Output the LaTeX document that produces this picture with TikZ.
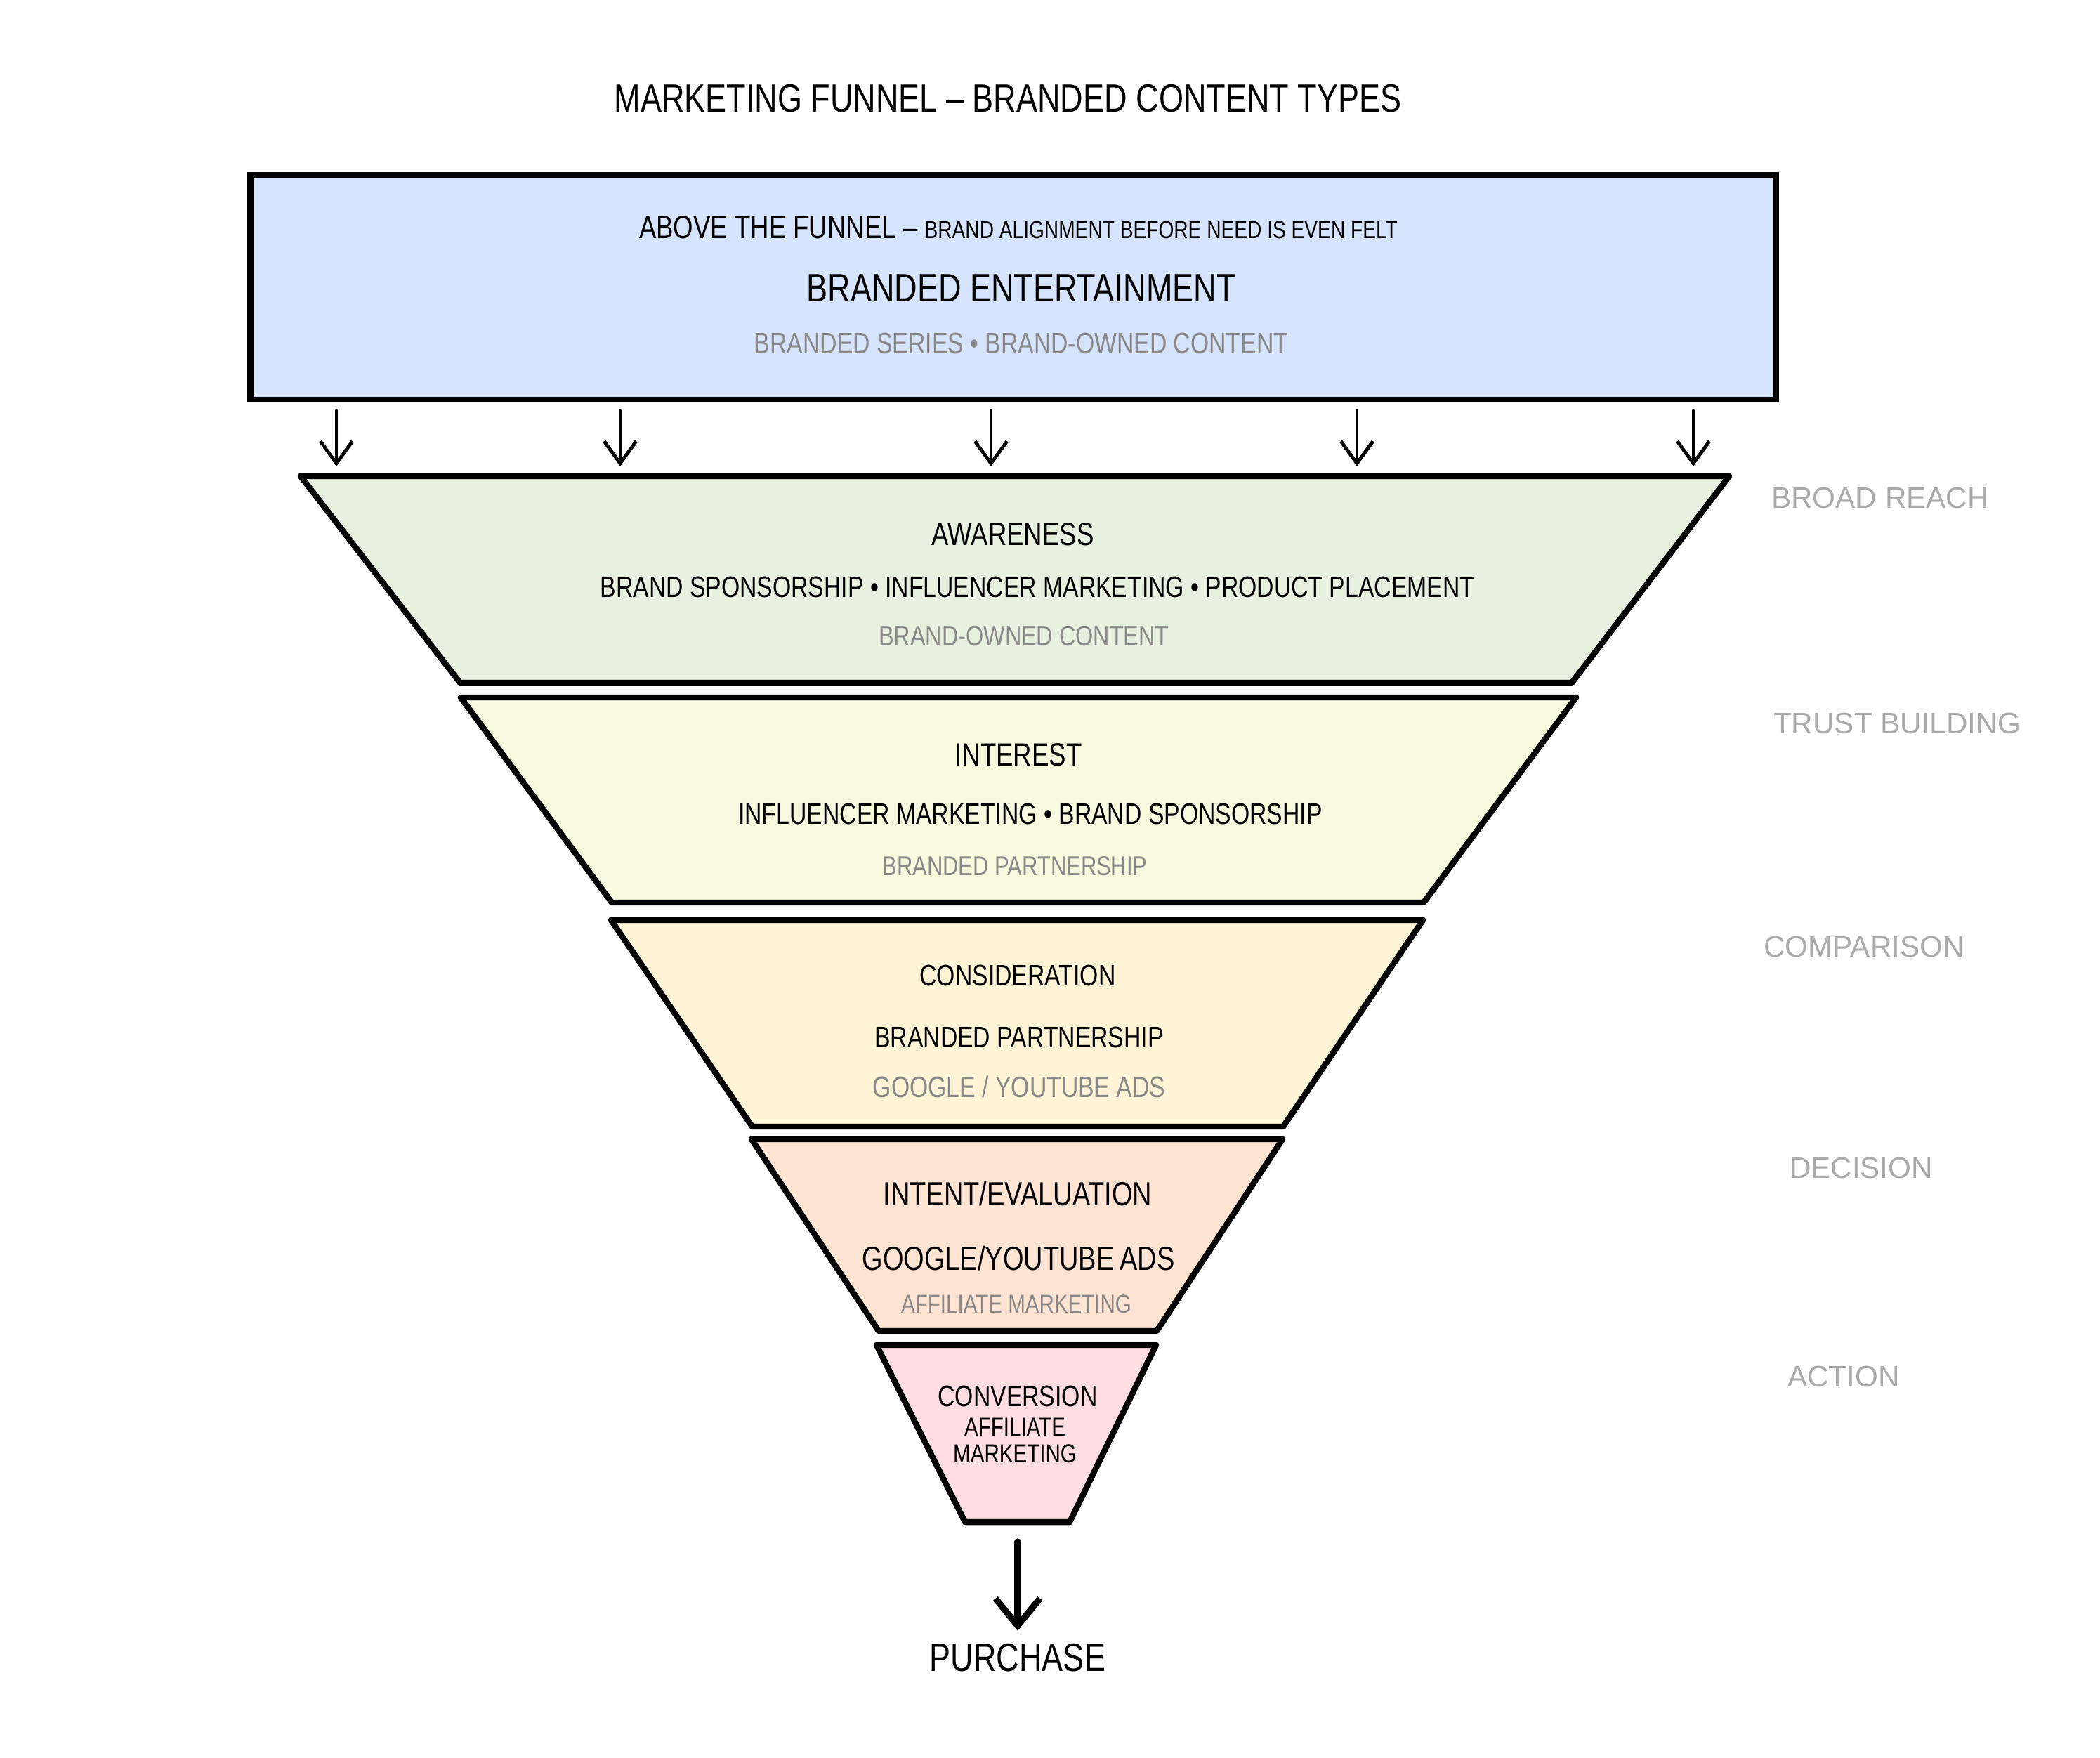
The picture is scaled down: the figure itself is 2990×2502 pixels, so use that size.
\documentclass[tikz,border=0pt]{standalone}
\usepackage{fontspec}
\setmainfont{Liberation Sans}[FakeStretch=0.8]
\newfontfamily\sidefamily{Liberation Sans}
\usepackage{tikz}
\usetikzlibrary{arrows.meta, positioning}

\definecolor{topblue}{HTML}{D5E4FC}
\definecolor{awaregreen}{HTML}{E6F1DF}
\definecolor{interestlime}{HTML}{F6F9DD}
\definecolor{considcream}{HTML}{FFF5D6}
\definecolor{intentpeach}{HTML}{FFE3D3}
\definecolor{convpink}{HTML}{FFDDE1}
\definecolor{subgray}{HTML}{888888}
\definecolor{sidegray}{HTML}{AAAAAA}

\begin{document}
\begin{tikzpicture}[
    x=0.01cm, y=-0.01cm,
    layer/.style={draw=black, line width=2.4pt, line join=round, line cap=round},
    topbox/.style={rectangle, draw=black, line width=2.4pt, fill=topblue,
                   minimum width=21.71cm, minimum height=3.2cm, inner sep=0pt},
    headtxt/.style={inner sep=0pt, font=\fontsize{#1}{#1}\selectfont},
    subtxt/.style={inner sep=0pt, text=subgray, font=\fontsize{#1}{#1}\selectfont},
    sidetxt/.style={inner sep=0pt, text=sidegray, font=\sidefamily\fontsize{12}{12}\selectfont},
    feed/.style={line width=1.4pt, line cap=round, -{Straight Barb[length=9pt, width=13pt]}},
    outarrow/.style={line width=2.6pt, line cap=round, -{Straight Barb[length=11pt, width=18pt]}}
]
\useasboundingbox (0,0) rectangle (2990,2502);

\node (title) [headtxt=16] at (1435,140) {MARKETING FUNNEL – BRANDED CONTENT TYPES};

% above the funnel
\node (above) [topbox] at (1442.5,409) {};
\node (aboveline) [headtxt=13] at (1450,324)
    {ABOVE THE FUNNEL – {\fontsize{10}{10}\selectfont BRAND ALIGNMENT BEFORE NEED IS EVEN FELT}};
\node (entertain) [headtxt=16] at (1454,410) {BRANDED ENTERTAINMENT};
\node (entertainsub) [subtxt=12] at (1454,489) {BRANDED SERIES • BRAND-OWNED CONTENT};

\foreach \x [count=\i] in {479,883,1411,1932,2411} {
    \coordinate (drop\i) at (\x,585);
    \coordinate (land\i) at (\x,664);
    \draw [feed] (drop\i) -- (land\i);
}

% funnel layers
\draw [layer, fill=awaregreen] (428,678) -- (2462,678) -- (2238,972) -- (655,972) -- cycle;
\draw [layer, fill=interestlime] (656,993) -- (2244,993) -- (2027,1285) -- (871,1285) -- cycle;
\draw [layer, fill=considcream] (870,1310) -- (2026,1310) -- (1827,1604) -- (1071,1604) -- cycle;
\draw [layer, fill=intentpeach] (1070,1622) -- (1826,1622) -- (1647,1895) -- (1251,1895) -- cycle;
\draw [layer, fill=convpink] (1248,1915) -- (1646,1915) -- (1523,2167) -- (1374,2167) -- cycle;

\node (aware) [headtxt=13] at (1442,761) {AWARENESS};
\node (awareitems) [headtxt=12] at (1477,836) {BRAND SPONSORSHIP • INFLUENCER MARKETING • PRODUCT PLACEMENT};
\node (awaresub) [subtxt=11.5] at (1458,906) {BRAND-OWNED CONTENT};

\node (interest) [headtxt=13] at (1450,1075) {INTEREST};
\node (interestitems) [headtxt=12] at (1467,1159) {INFLUENCER MARKETING • BRAND SPONSORSHIP};
\node (interestsub) [subtxt=11] at (1445,1233) {BRANDED PARTNERSHIP};

\node (consid) [headtxt=12] at (1449,1389) {CONSIDERATION};
\node (considitems) [headtxt=12] at (1451,1477) {BRANDED PARTNERSHIP};
\node (considsub) [subtxt=12] at (1451,1547) {GOOGLE / YOUTUBE ADS};

\node (intent) [headtxt=13.5] at (1449,1700) {INTENT/EVALUATION};
\node (intentitems) [headtxt=13.5] at (1450,1792) {GOOGLE/YOUTUBE\,ADS};
\node (intentsub) [subtxt=10.5] at (1447,1857) {AFFILIATE MARKETING};

\node (conv) [headtxt=12] at (1449,1988) {CONVERSION};
\node (convitems) [inner sep=0pt, align=center, font=\fontsize{10.5}{10.8}\selectfont] at (1445,2051) {AFFILIATE\\MARKETING};

% exit
\coordinate (outlet) at (1449,2195);
\node (purchase) [headtxt=16] at (1449,2360) {PURCHASE};
\draw [outarrow, shorten >=5pt] (outlet) -- (purchase);

% stage notes
\node (broad) [sidetxt] at (2677,709) {BROAD REACH};
\node (trust) [sidetxt] at (2701,1030) {TRUST BUILDING};
\node (compare) [sidetxt] at (2654,1348) {COMPARISON};
\node (decide) [sidetxt] at (2650,1663) {DECISION};
\node (act) [sidetxt] at (2625,1960) {ACTION};

\end{tikzpicture}
\end{document}
